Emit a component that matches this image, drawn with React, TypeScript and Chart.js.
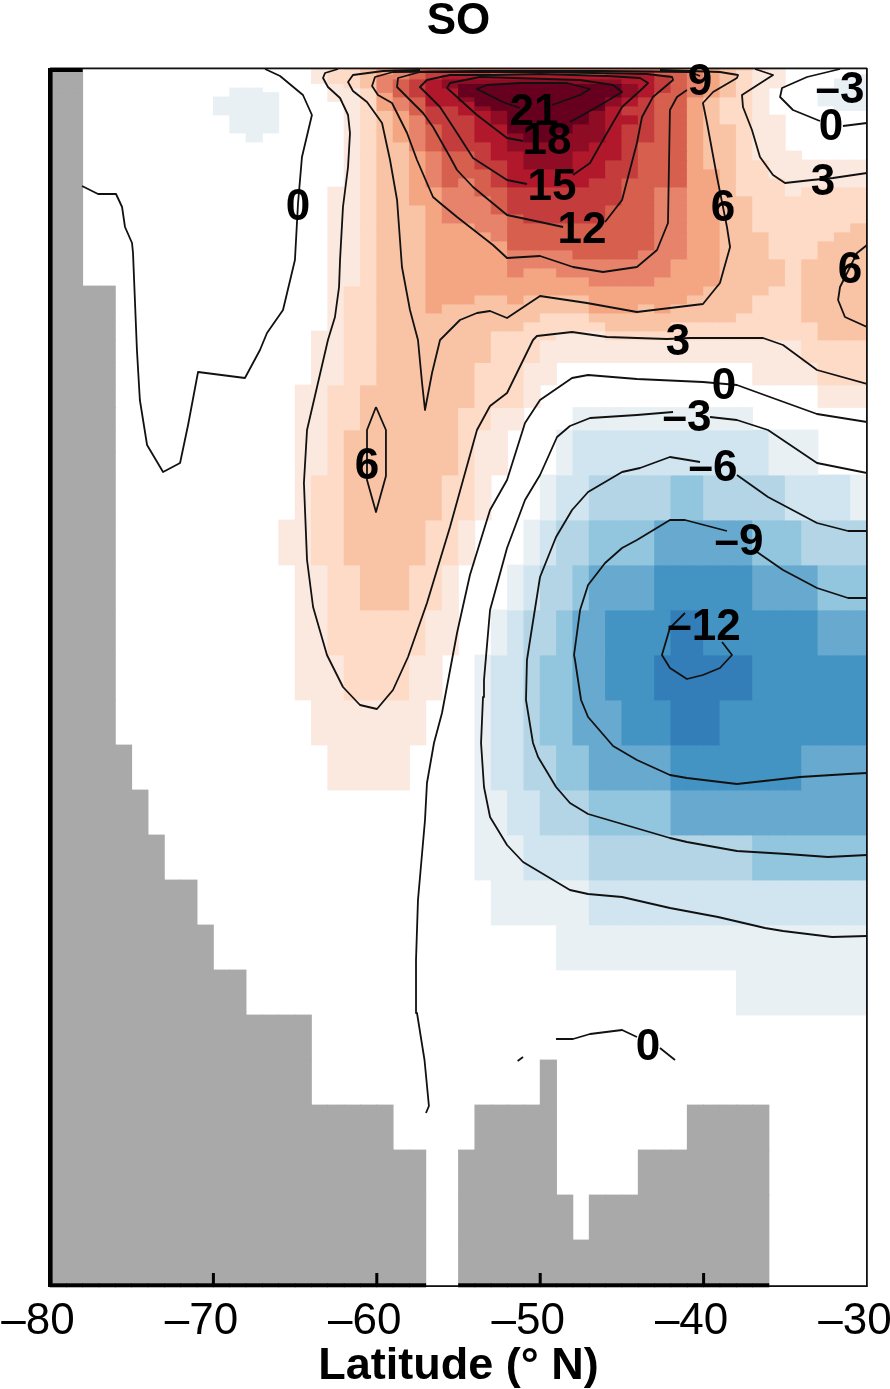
import React, { useEffect, useRef } from "react";
import { Chart, registerables } from "chart.js";

Chart.register(...registerables);

const FONT = '"Liberation Sans", Arial, sans-serif';

// one category per 1-degree latitude column
const latitudes = [
  -80, -79, -78, -77, -76, -75, -74, -73, -72, -71, -70, -69, -68, -67, -66, -65, -64, -63, -62, -61, -60, -59, -58, -57, -56,
  -55, -54, -53, -52, -51, -50, -49, -48, -47, -46, -45, -44, -43, -42, -41, -40, -39, -38, -37, -36, -35, -34, -33, -32, -31,
];

// thickness of each depth layer (arbitrary depth units; the figure has no depth axis)
const layerThickness = [
  2, 4.5, 4.5, 4.5, 4.5, 4.5, 4.5, 4.5, 4.5, 4.5, 4.5,
  9, 9, 9, 9, 9, 9, 9, 9, 9, 9, 9, 9, 9, 9, 9, 9, 9, 9, 9, 9, 9, 9, 9, 9, 9,
  22.5, 22.5, 22.5, 22.5, 22.5, 22.5,
  45, 45, 45, 45, 45, 45, 45, 45, 45, 45, 45, 45, 45, 45, 45, 45, 45, 45,
];
const DEPTH_MAX = 1217;

// depth at which the sea floor starts in each column (null = no land drawn)
const landTop = [
  2, 2, 218, 218, 677, 722, 767, 812, 812, 857, 902, 902, 947, 947, 947, 947, 1037, 1037, 1037, 1037, 1037, 1082, 1082, null, null,
  1082, 1037, 1037, 1037, 1037, 992, 1127, 1172, 1127, 1127, 1127, 1082, 1082, 1082, 1037, 1037, 1037, 1037, 1037, null, null, null, null, null, null,
];

// colour class per layer: "<first column><class>" runs
const classRows = [
  "16A 18B 19C 20D 21E 38D 41C 43B 44A 45.",
  "16A 17B 19C 20D 21E 22F 23G 27F 34G 37F 39E 40D 41C 42B 43A 45.",
  "16A 17B 19C 20E 21E 22F 23G 24H 37G 38F 39E 40D 41C 42B 43A 45. 49a",
  "16A 17B 19C 20E 21F 22G 23H 24I 35H 37G 38F 39E 40D 41C 42B 43A 45. 48a",
  "17A 18B 19C 20E 21F 22G 23H 24I 25J 35I 36H 37G 38F 39E 40D 41C 42B 43A 45. 48a",
  "11a 13. 17A 19B 20E 21F 22G 23H 25J 35I 36H 37G 38F 39E 40D 41C 42B 43A 44. 47a",
  "11a 14. 17A 19B 20D 21F 22G 23H 25J 35I 36H 37F 39E 40D 41C 42B 43A 44. 47a",
  "10a 14. 17A 19B 20D 21E 22F 23H 25I 26J 34I 35H 36G 37F 39D 40C 41B 43A 44. 47a",
  "10a 14. 18A 19B 20D 21E 22F 23H 26J 34I 35H 36G 37F 39D 40C 41B 43A 44. 47a",
  "10a 14. 18A 19B 20D 21E 22F 23G 25H 26I 27J 34H 35G 37F 39D 40C 41B 43A 44. 48a",
  "10a 14. 18A 19B 20C 21D 22F 23G 25H 27I 28J 33I 34H 35G 37F 39D 40C 41B 43A 44.",
  "11a 14. 18A 19B 20C 21D 22E 23G 25G 26H 27I 28J 33I 34H 36G 37F 39D 40C 41B 43A 45.",
  "11a 14. 18A 19B 20C 21D 22E 23F 24G 26H 28J 32I 34H 35G 37F 39D 40C 42B 43A 45.",
  "12a 13. 18A 19B 20C 21D 22E 23F 24G 26H 28I 29J 31I 34H 35G 37F 39D 40C 42B 43A 45.",
  "18A 19B 20C 22E 23F 24G 27H 28I 33H 35G 36F 39D 40C 42B 43A 45.",
  "18A 19B 20C 22D 23E 24F 26G 27H 29I 32H 35G 36F 39D 40C 42B 43A 46.",
  "18A 19B 20C 22D 23E 24F 26G 28H 29I 32H 34G 36F 39D 40C 42B 44A",
  "18A 19B 20C 22D 23E 24F 27G 28H 34G 36F 39D 41C 42B 44A",
  "18A 19B 20C 22D 23E 24F 25E 26F 27G 28H 33G 35F 39D 41C 42B 45A",
  "17A 19B 20C 22D 24E 26F 28G 35F 37E 39D 41C 42B 45A 46B",
  "17A 19B 20C 22D 24E 27F 28G 35F 37E 39D 41C 43B",
  "17A 19B 20C 23D 24E 27F 28G 34F 37E 39D 41C 43B",
  "17A 19B 20C 23D 24E 28F 29G 34F 37E 39D 41C 43B",
  "17A 19B 20C 23D 26E 28F 37E 39D 41C 43B 49C",
  "17A 19B 20C 23D 27E 28F 37E 39D 41C 44B 48C",
  "17A 19B 20C 23D 28F 37E 39D 41C 44B 47C",
  "17A 19B 20C 23D 28E 32F 36E 39D 41C 44B 47C",
  "17A 19B 20C 23D 28E 38D 41C 45B 46C",
  "17A 19B 20C 23D 28E 29D 31E 38D 41C 45B 46C",
  "17A 19B 20C 23D 33E 37D 41C 45B 46C",
  "17A 18B 20C 23D 40C 44B 46C",
  "17A 18B 20C 23D 26C 28D 29C 33D 39C 43B 46C",
  "17A 18B 20C 23D 24C 33D 36C 37D 38C 43B 46C",
  "17A 18B 20C 30B 33C 42B 46C",
  "17A 18B 20C 29B 34C 38B 47C",
  "16A 18B 20C 27B 31A 34B 47C",
  "16A 18B 20C 27B 30A 46B",
  "16A 18B 20C 26B 29A 31. 43A 47B",
  "15A 17B 19C 26B 29A 30. 47A",
  "15A 17B 19C 25B 27A 29. 32a 43.",
  "15A 17B 18C 25B 26A 28. 31a 32b 44a 47.",
  "15A 17B 18C 25B 26A 28. 31a 32b 44a 47.",
  "15A 16B 18C 24B 26A 27. 30a 31b 33c 38d 40c 45b 49a",
  "14A 16B 18C 23B 25A 26. 29a 30b 31c 33d 37e 43d 46c",
  "15A 17B 19C 22B 24A 25. 28a 29b 30c 32d 33e 37f 43e 47d",
  "15A 17B 23A 25. 27a 28b 29c 31d 32e 34f 38g 40f 47e",
  "15A 18B 22A 24. 26a 27b 29c 30d 32e 34f 37g 43f",
  "16A 23. 26a 27b 29c 30d 32e 35f 38g 41f",
  "17A 22. 26a 27b 29c 31d 33e 38f 46e",
  "26a 28b 30c 33d 38e",
  "26a 29b 33c 43d",
  "27a 33b",
  "31a",
  "42a",
];

const classColours: Record<string, string> = {
  ".": "rgba(255,255,255,0)",
  a: "#E9F0F4", b: "#D1E5F0", c: "#B3D5E6", d: "#92C5DE", e: "#67A9CF", f: "#4393C3", g: "#337EB8",
  A: "#FBE9DF", B: "#FDDBC7", C: "#F9C3A5", D: "#F4A582", E: "#E7836B", F: "#D6604D", G: "#C43C3C", H: "#B2182B", I: "#8F0C25", J: "#67001F",
};
const LAND = "#A9A9A9";

type Pt = [number, number] | null;

const contourZeroNW: Pt[] = [
  [-66.84, 1], [-65.92, 8], [-64.52, 27], [-63.97, 47], [-64.58, 89], [-64.82, 135], [-65.01, 192], [-65.74, 242], [-66.72, 265], [-67.15, 282],
  [-68.07, 310], [-70.94, 304], [-71.55, 357], [-72.04, 395], [-73.08, 404], [-74.06, 377], [-74.5, 332], [-74.68, 282], [-74.92, 185], [-74.98, 175],
  [-75.41, 159], [-75.59, 139], [-75.96, 126], [-77.06, 126], [-78.04, 118],
];
const contourThree: Pt[] = [
  [-62.37, 1], [-63.17, 5], [-63.29, 10], [-62.99, 19], [-62.25, 30], [-61.76, 47], [-61.64, 65], [-61.76, 99], [-62.07, 139], [-62.25, 192],
  [-62.31, 219], [-62.56, 249], [-62.99, 272], [-64.27, 362], [-64.46, 415], [-64.27, 492], [-63.9, 539], [-63.05, 587], [-62.07, 619], [-61.03, 637],
  [-59.99, 641], [-59.01, 622], [-58.09, 589], [-56.93, 535], [-55.52, 459], [-53.87, 362], [-53.07, 338], [-52.03, 325], [-50.44, 272], [-50.2, 268],
  [-48.05, 264], [-45.91, 269], [-42.24, 271], [-40.83, 270], [-36.36, 270], [-35.14, 277], [-33.06, 302], [-30, 316],
];
const contourZeroMain: Pt[] = [
  [-56.99, 1045], [-56.81, 1038], [-57.08, 992], [-57.54, 945], [-57.6, 892], [-57.48, 832], [-57.05, 752], [-56.93, 715], [-56.5, 675], [-56.01, 645],
  [-55.09, 565], [-54.3, 507], [-53.07, 442], [-52.03, 412], [-50.93, 355], [-50.01, 332], [-48.05, 310], [-47.07, 307], [-44.08, 311], [-40.04, 314],
  [-37.96, 317], [-35.94, 329], [-33.06, 346], [-30, 354],
];
const contourMinus3: Pt[] = [
  [-30, 868], [-32.14, 869], [-35.14, 863], [-36.24, 860], [-39.12, 849], [-42.06, 840], [-44.99, 829], [-47.07, 826], [-48.18, 822], [-51.05, 794],
  [-52.03, 777], [-53.07, 749], [-53.44, 719], [-53.62, 675], [-53.5, 629], [-53.44, 612], [-53.07, 542], [-52.03, 480], [-50.93, 432], [-50.01, 407],
  [-48.97, 369], [-48.18, 358], [-46.95, 350], [-44.08, 347], [-41.87, 344], null,
  [-39.61, 349], [-37.96, 352], [-36.06, 362], [-33.06, 395], [-30, 405],
];
const contourMinus6: Pt[] = [
  [-30, 787], [-32.39, 789], [-34.9, 786], [-37.96, 783], [-41.02, 774], [-42.06, 770], [-47.07, 746], [-48.18, 735], [-49.03, 719], [-50.13, 689],
  [-50.44, 675], [-50.87, 632], [-50.81, 592], [-50.62, 572], [-50.01, 509], [-49.03, 469], [-48.05, 442], [-47.07, 424], [-44.99, 404], [-43.89, 400],
  [-42.06, 389], [-40.22, 394], null,
  [-37.96, 407], [-36.06, 429], [-33.06, 455], [-31.16, 463], [-30, 463],
];
const contourMinus9: Pt[] = [
  [-30, 705], [-31.16, 706], [-34.1, 709], [-37.96, 716], [-41.02, 710], [-42.06, 707], [-44.08, 692], [-45.54, 678], [-47.07, 649], [-47.5, 632],
  [-47.87, 592], [-47.93, 587], [-47.56, 542], [-47.07, 517], [-46.03, 495], [-44.99, 480], [-44.08, 472], [-42.06, 452], [-41.14, 452], [-38.57, 463], null,
  [-36.73, 484], [-35.14, 502], [-33.06, 520], [-31.16, 530], [-30, 530],
];
const contourMinus12: Pt[] = [
  [-41.14, 545], [-42.06, 560], [-42.55, 587], [-42.06, 600], [-41.02, 611], [-40.04, 607], [-39.0, 600], [-38.26, 587], [-38.87, 574],
];
const contourSixSmall: Pt[] = [
  [-60.05, 339], [-60.6, 362], [-60.6, 412], [-60.05, 444], [-59.44, 408], [-59.44, 362], [-60.05, 339],
];
const contourSix: Pt[] = [
  [-57.36, 2], [-59.62, 3], [-61.46, 7], [-61.76, 14], [-61.46, 23], [-60.6, 34], [-59.68, 55], [-59.19, 92], [-58.76, 132], [-58.46, 199],
  [-57.97, 242], [-57.48, 272], [-57.23, 315], [-57.05, 342], [-56.62, 305], [-56.13, 272], [-54.91, 252], [-53.87, 245], [-53.07, 243], [-52.03, 250],
  [-50.01, 228], [-47.14, 235], [-44.08, 244], [-40.04, 236], [-39.0, 215], [-38.38, 179], [-38.57, 159], [-39.18, 109], [-39.79, 55], [-40.04, 35],
  [-39.42, 24], [-37.96, 10], [-37.89, 7], [-39.0, 4], [-42.67, 2],
];
const contourSixEast: Pt[] = [
  [-30, 177], [-30.61, 185], [-31.65, 219], [-31.77, 232], [-31.35, 249], [-30, 259],
];
const contourThreeNE: Pt[] = [
  [-36.85, 1], [-35.75, 7], [-37.65, 27], [-37.59, 39], [-37.04, 62], [-36.55, 89], [-35.75, 107], [-35.02, 115], [-33.37, 112], [-32.08, 110], [-30, 105],
];
const contourZeroNE: Pt[] = [
  [-30, 55], [-31.47, 58], null, [-32.88, 53], [-34.53, 42], [-35.32, 29], [-35.2, 20], [-33.67, 9], [-31.65, 1],
];
const contourNine: Pt[] = [
  [-40.22, 8], [-40.83, 4], [-46.34, 3], [-53.68, 3], [-59.01, 4], [-60.11, 9], [-60.29, 18], [-59.93, 27], [-59.07, 35], [-58.15, 65],
  [-57.54, 92], [-56.56, 129], [-56.13, 135], [-55.09, 149], [-52.89, 177], [-52.03, 190], [-50.01, 188], [-47.99, 199], [-46.16, 204], [-44.08, 199],
  [-42.85, 182], [-42.18, 155], [-42.06, 42], [-41.63, 29], [-41.02, 22],
];
const contourTwelve: Pt[] = [
  [-48.6, 159], [-50.01, 154], [-52.03, 147], [-54.11, 119], [-55.09, 102], [-55.52, 89], [-56.56, 59], [-57.17, 45], [-57.97, 32], [-58.76, 19],
  [-58.7, 10], [-57.36, 4], [-50.01, 4], [-43.46, 6], [-41.93, 9], [-41.87, 12], [-43.1, 29], [-43.77, 49], [-44.08, 75], [-44.99, 132], [-46.03, 154],
];
const contourFifteen: Pt[] = [
  [-50.81, 116], [-52.03, 112], [-54.11, 90], [-55.09, 65], [-56.13, 39], [-56.74, 29], [-57.36, 19], [-56.93, 12], [-55.52, 7], [-53.07, 7],
  [-50.01, 6], [-45.91, 8], [-43.89, 10], [-43.4, 15], [-43.71, 20], [-44.99, 39], [-46.16, 72], [-46.95, 95], [-47.99, 107],
];
const contourEighteen: Pt[] = [
  [-51.05, 73], [-52.03, 70], [-53.87, 47], [-55.09, 29], [-55.7, 20], [-55.52, 15], [-53.68, 9], [-47.56, 12], [-45.54, 17], [-44.99, 24],
  [-46.52, 39], [-48.18, 54],
];
const contourTwentyOne: Pt[] = [
  [-49.28, 37], [-47.56, 27], [-46.95, 21], [-48.36, 15], [-51.24, 15], [-53.26, 17], [-53.87, 21], [-52.28, 34], [-51.24, 40],
];
const contourZeroDeepA: Pt[] = [[-51.38, 993], [-51.05, 989]];
const contourZeroDeepB: Pt[] = [
  [-49.03, 971], [-47.99, 971], [-46.95, 966], [-44.99, 962], [-44.08, 969], null, [-42.67, 980], [-41.75, 992],
];

const contours: Pt[][] = [
  contourZeroNW, contourThree, contourZeroMain, contourMinus3, contourMinus6, contourMinus9, contourMinus12, contourSixSmall, contourSix, contourSixEast,
  contourThreeNE, contourZeroNE, contourNine, contourTwelve, contourFifteen, contourEighteen, contourTwentyOne, contourZeroDeepA, contourZeroDeepB,
];

const contourLabelText = ["21", "18", "15", "12", "9", "–3", "0", "3", "6", "6", "0", "3", "0", "–3", "–6", "–9", "–12", "6", "0"];
const contourLabelLat = [-50.38, -49.58, -49.28, -47.44, -40.22, -31.65, -32.2, -32.69, -38.81, -31.04, -64.82, -41.57, -38.75, -41.02, -39.42, -37.83, -39.98, -60.6, -43.4];
const contourLabelDepth = [45, 74, 120, 163, 15, 23, 60, 115, 141, 203, 140, 275, 319, 351, 401, 475, 560, 399, 980];

function expandRow(spec: string | undefined): string[] {
  const out: string[] = new Array(latitudes.length).fill(".");
  if (!spec) return out;
  const tokens = spec.split(" ").map((t) => ({ start: parseInt(t, 10), cls: t[t.length - 1] }));
  tokens.forEach((tok, i) => {
    const end = i + 1 < tokens.length ? tokens[i + 1].start : latitudes.length;
    for (let k = tok.start; k < end; k++) out[k] = tok.cls;
  });
  return out;
}

function buildLayerDatasets() {
  let top = 0;
  return layerThickness.map((h, r) => {
    const row = expandRow(classRows[r]);
    const rowTop = top;
    top += h;
    return {
      type: "bar" as const,
      label: "layer " + r,
      xAxisID: "xCells",
      yAxisID: "yCells",
      stack: "cells",
      grouped: false,
      order: 2,
      data: latitudes.map(() => h),
      backgroundColor: row.map((c, k) => {
        const land = landTop[k];
        return land !== null && rowTop >= land - 0.01 ? LAND : classColours[c];
      }),
      borderWidth: 0,
      inflateAmount: 0.4,
      categoryPercentage: 1,
      barPercentage: 1,
    };
  });
}

function buildContourDatasets() {
  return contours.map((c, i) => ({
    type: "line" as const,
    label: "contour " + i,
    xAxisID: "x",
    yAxisID: "yDepth",
    order: 1,
    data: c.map((p) => (p ? { x: p[0], y: p[1] } : { x: NaN, y: NaN })),
    borderColor: "#111111",
    borderWidth: 1.8,
    borderJoinStyle: "round" as const,
    pointRadius: 0,
    tension: 0,
    spanGaps: false,
    fill: false,
  }));
}

const framePlugin = {
  id: "frame",
  afterDatasetsDraw(chart: any) {
    const { ctx, chartArea: a, scales } = chart;
    const xs = scales.x;
    ctx.save();
    ctx.fillStyle = "#111111";
    // thin box
    ctx.fillRect(a.left, a.top - 0.5, a.right - a.left, 1.8);
    ctx.fillRect(a.right - 1, a.top, 1.8, a.bottom - a.top + 2);
    ctx.fillRect(a.left, a.bottom + 0.2, a.right - a.left, 1.8);
    // heavy outline where the section meets land
    ctx.fillStyle = "#000000";
    ctx.fillRect(a.left - 2, a.top, 4.6, a.bottom - a.top + 2);
    ctx.fillRect(a.left - 2, a.top, xs.getPixelForValue(-78) - a.left + 2, 4);
    landTop.forEach((v, k) => {
      if (v === null) return;
      const x0 = xs.getPixelForValue(latitudes[k]);
      const x1 = xs.getPixelForValue(latitudes[k] + 1);
      ctx.fillRect(x0 - 0.3, a.bottom - 1.7, x1 - x0 + 0.6, 4);
    });
    // inward ticks
    xs.ticks.forEach((t: any, i: number) => {
      if (i === 0 || i === xs.ticks.length - 1) return;
      ctx.fillRect(xs.getPixelForValue(t.value) - 1.5, a.bottom - 12, 3, 12);
    });
    // contour labels
    ctx.fillStyle = "#000000";
    ctx.font = "bold 44px " + FONT;
    ctx.textAlign = "center";
    ctx.textBaseline = "middle";
    contourLabelText.forEach((t, i) => {
      ctx.fillText(t, xs.getPixelForValue(contourLabelLat[i]), scales.yDepth.getPixelForValue(contourLabelDepth[i]));
    });
    ctx.restore();
  },
};

export default function App() {
  const ref = useRef<HTMLCanvasElement | null>(null);
  useEffect(() => {
    document.body.style.margin = "0";
    const chart = new Chart(ref.current as HTMLCanvasElement, {
      type: "bar",
      data: {
        labels: latitudes.map(String),
        datasets: [...buildContourDatasets(), ...buildLayerDatasets()] as any,
      },
      options: {
        animation: false,
        responsive: false,
        events: [],
        layout: { padding: { left: 50, right: 23, top: 0, bottom: 0 } },
        plugins: {
          legend: { display: false },
          tooltip: { enabled: false },
          title: {
            display: true,
            text: "SO",
            color: "#000",
            font: { family: FONT, size: 44, weight: "bold", lineHeight: 1 },
            padding: { top: 0, bottom: 24 },
          },
        },
        scales: {
          x: {
            type: "linear",
            axis: "x",
            position: "bottom",
            offset: false,
            min: -80,
            max: -30,
            afterFit(scale: any) {
              scale.paddingLeft = 0;
              scale.paddingRight = 0;
              scale.height = 104;
            },
            border: { display: false },
            grid: { display: false, drawTicks: false, offset: false },
            ticks: {
              stepSize: 10,
              autoSkip: false,
              maxRotation: 0,
              padding: 15,
              labelOffset: -12,
              color: "#000",
              font: { family: FONT, size: 44, lineHeight: 1 },
              callback: (v: any) => (Number(v) < 0 ? "–" + Math.abs(Number(v)) : String(v)),
            },
            title: {
              display: true,
              text: "Latitude (° N)",
              color: "#000",
              font: { family: FONT, size: 45, weight: "bold", lineHeight: 1 },
              padding: { top: 1, bottom: 0 },
            },
          },
          xCells: { type: "category", axis: "x", display: false, stacked: true, offset: true, grid: { display: false } },
          yCells: { type: "linear", axis: "y", display: false, stacked: true, reverse: true, min: 0, max: DEPTH_MAX, grid: { display: false } },
          yDepth: { type: "linear", axis: "y", display: false, reverse: true, min: 0, max: DEPTH_MAX, grid: { display: false } },
        },
      } as any,
      plugins: [framePlugin] as any,
    });
    return () => chart.destroy();
  }, []);
  return <canvas ref={ref} width={890} height={1389} style={{ display: "block" }} />;
}
